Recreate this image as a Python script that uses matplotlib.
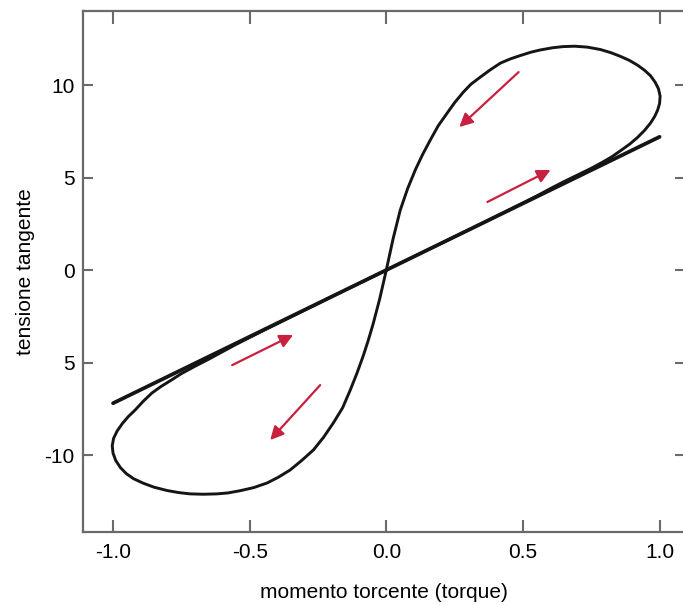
import matplotlib.pyplot as plt
import numpy as np

# straight branch (loading line)
line_x = [-1.0, 1.0]
line_y = [-7.2, 7.2]

# figure-eight loop
upper_x = [0.0, 0.025, 0.051, 0.078, 0.106, 0.133, 0.161, 0.19, 0.223, 0.25, 0.282, 0.31,
           0.344, 0.38, 0.418, 0.455, 0.491, 0.53, 0.564, 0.61, 0.648, 0.69, 0.736, 0.784,
           0.822, 0.857, 0.89, 0.919, 0.945, 0.967, 0.984, 0.996, 1.002, 1.0, 0.993, 0.982,
           0.967, 0.945, 0.918, 0.89, 0.857, 0.825, 0.79, 0.75, 0.70, 0.65, 0.60, 0.55,
           0.45, 0.30, 0.15, 0.0]
upper_y = [0.0, 1.7, 3.24, 4.40, 5.41, 6.25, 7.03, 7.8, 8.49, 9.05, 9.62, 10.05,
           10.43, 10.82, 11.19, 11.42, 11.6, 11.78, 11.9, 12.02, 12.08, 12.1, 12.05, 11.92,
           11.75, 11.55, 11.33, 11.08, 10.8, 10.5, 10.15, 9.8, 9.4, 9.0, 8.65, 8.3,
           7.95, 7.55, 7.15, 6.8, 6.45, 6.12, 5.82, 5.5, 5.14, 4.78, 4.4, 4.0,
           3.26, 2.16, 1.08, 0.0]
lower_x = [0.0, -0.024, -0.048, -0.066, -0.084, -0.108, -0.132, -0.16, -0.194, -0.23,
           -0.267, -0.31, -0.352, -0.395, -0.436, -0.485, -0.535, -0.58, -0.619, -0.67,
           -0.718, -0.76, -0.802, -0.85, -0.89, -0.925, -0.952, -0.973, -0.99, -1.0,
           -1.003, -0.998, -0.985, -0.966, -0.944, -0.918, -0.89, -0.858, -0.825, -0.79,
           -0.75, -0.70, -0.65, -0.60, -0.55, -0.45, -0.30, -0.15, 0.0]
lower_y = [0.0, -1.55, -2.9, -3.8, -4.62, -5.6, -6.49, -7.45, -8.27, -9.05,
           -9.73, -10.3, -10.81, -11.2, -11.51, -11.76, -11.93, -12.05, -12.1, -12.12,
           -12.1, -12.03, -11.92, -11.74, -11.52, -11.28, -11.0, -10.68, -10.3, -9.9,
           -9.5, -9.1, -8.7, -8.3, -7.92, -7.55, -7.1, -6.65, -6.3, -5.98,
           -5.6, -5.2, -4.82, -4.42, -4.02, -3.27, -2.17, -1.08, 0.0]

# arrows: (tail x, tail y, tip x, tip y)
arrows = [
    (0.484, 10.70, 0.267, 7.73),
    (0.370, 3.68, 0.601, 5.41),
    (-0.564, -5.14, -0.341, -3.51),
    (-0.242, -6.22, -0.425, -9.19),
]

xticks = [-1.0, -0.5, 0.0, 0.5, 1.0]
xtick_labels = ["-1.0", "-0.5", "0.0", "0.5", "1.0"]
yticks = [10, 5, 0, -5, -10]
ytick_labels = ["10", "5", "0", "5", "-10"]

plt.rcParams["font.family"] = ["Liberation Sans", "DejaVu Sans"]

fig = plt.figure(figsize=(6.83, 6.05), dpi=100)
ax = fig.add_axes([0.1215, 0.1207, 0.881, 0.861])

ax.plot(line_x, line_y, color="#151515", lw=2.7, solid_capstyle="round")
ax.plot(upper_x, upper_y, color="#151515", lw=2.1, solid_joinstyle="round")
ax.plot(lower_x, lower_y, color="#151515", lw=2.1, solid_joinstyle="round")

for x0, y0, x1, y1 in arrows:
    ax.annotate("", xy=(x1, y1), xytext=(x0, y0),
                arrowprops=dict(arrowstyle="-|>", mutation_scale=20, lw=1.6,
                                color="#c8203f", shrinkA=0, shrinkB=0))

ax.set_xlim(-1.11, 1.092)
ax.set_ylim(-14.16, 14.0)
ax.set_xticks(xticks)
ax.set_xticklabels(xtick_labels)
ax.set_yticks(yticks)
ax.set_yticklabels(ytick_labels)

for s in ax.spines.values():
    s.set_color("#6a6a6a")
    s.set_linewidth(1.6)
ax.tick_params(axis="both", direction="in", top=True, right=True,
               colors="#6a6a6a", labelcolor="black", labelsize=15, width=1.5)
ax.tick_params(axis="x", length=9, pad=8)
ax.tick_params(axis="y", length=7, pad=6)

ax.set_xlabel("momento torcente (torque)", fontsize=15, labelpad=15)
ax.set_ylabel("tensione tangente", fontsize=15, labelpad=7)

fig.savefig("out.png", dpi=100)
